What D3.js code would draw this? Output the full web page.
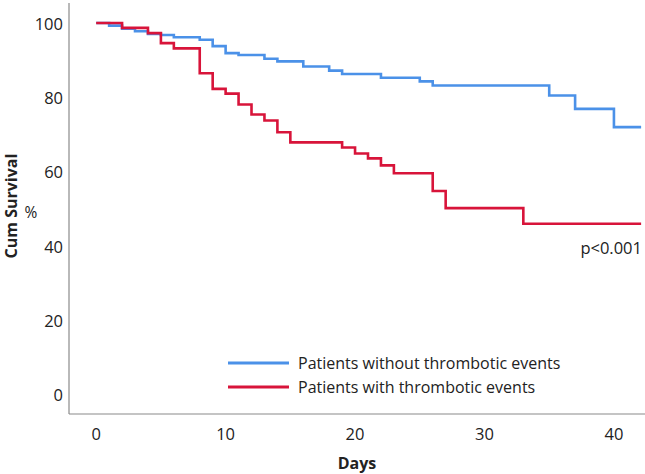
<!DOCTYPE html>
<html><head><meta charset="utf-8">
<script src="https://cdn.jsdelivr.net/npm/d3@7/dist/d3.min.js"></script>
<style>
body{margin:0;background:#fff;}
text{font-family:"Open Sans",sans-serif;fill:#222;}
</style></head>
<body><svg id="c" width="645" height="474"></svg>
<script>
// Kaplan-Meier step data (day, cumulative survival %)
const blueDays = [0,1,2,3,4,5,6,8,9,10,11,13,14,16,18,19,22,25,26,35,37,40];
const blueSurv = [100,99.3,98.5,97.8,97.1,96.8,96.2,95.5,93.8,91.9,91.4,90.4,89.7,88.3,87.2,86.3,85.3,84.3,83.2,80.5,76.9,72.0];
const redDays = [0,2,4,5,6,8,9,10,11,12,13,14,15,19,20,21,22,23,26,27,33];
const redSurv = [100,98.7,97.3,94.6,93.2,86.5,82.3,81.0,78.1,75.4,73.8,70.6,67.9,66.5,64.9,63.6,61.7,59.6,54.8,50.2,46.0];
const lastDay = 42.1;
const xTicks = [0,10,20,30,40];
const yTicks = [0,20,40,60,80,100];
const seriesNames = ["Patients without thrombotic events","Patients with thrombotic events"];
const colors = ["#4b91e8","#d8143a"];

const svg = d3.select("#c");
const x = d3.scaleLinear().domain([-2.1, 42.4]).range([69, 645]);
const y = d3.scaleLinear().domain([-5.2, 105.4]).range([414, 3]);

// axes lines
svg.append("line").attr("x1",69).attr("x2",69).attr("y1",y(105.4)).attr("y2",y(-5.2)).attr("stroke","#8a8a8a").attr("stroke-width",1.2);
svg.append("line").attr("x1",69).attr("x2",645).attr("y1",y(-5.2)).attr("y2",y(-5.2)).attr("stroke","#8a8a8a").attr("stroke-width",1.2);

svg.selectAll(".yt").data(yTicks).enter().append("text")
  .attr("x",63).attr("y",d=>y(d)+1).attr("dy","0.35em").attr("text-anchor","end")
  .attr("font-size",16.5).text(d=>d);
svg.selectAll(".xt").data(xTicks).enter().append("text")
  .attr("x",d=>x(d)).attr("y",434).attr("dy","0.35em").attr("text-anchor","middle")
  .attr("font-size",16.5).text(d=>d);

svg.append("text").attr("x",357).attr("y",463).attr("dy","0.35em").attr("text-anchor","middle")
  .attr("font-size",16).attr("font-weight","bold").text("Days");
svg.append("text").attr("transform","translate(11,206) rotate(-90)").attr("dy","0.35em").attr("text-anchor","middle")
  .attr("font-size",16).attr("font-weight","bold").text("Cum Survival");
svg.append("text").attr("x",31).attr("y",213).attr("dy","0.35em").attr("text-anchor","middle")
  .attr("font-size",15.5).text("%");

function steps(days, surv){
  const pts = days.map((d,i)=>[d,surv[i]]);
  pts.push([lastDay, surv[surv.length-1]]);
  return pts;
}
const line = d3.line().x(d=>x(d[0])).y(d=>y(d[1])).curve(d3.curveStepAfter);
svg.append("path").datum(steps(blueDays,blueSurv)).attr("d",line)
  .attr("fill","none").attr("stroke",colors[0]).attr("stroke-width",2.6);
svg.append("path").datum(steps(redDays,redSurv)).attr("d",line)
  .attr("fill","none").attr("stroke",colors[1]).attr("stroke-width",2.6);

svg.append("text").attr("x",642).attr("y",248).attr("dy","0.35em").attr("text-anchor","end")
  .attr("font-size",16.5).text("p<0.001");

// legend
const lg = svg.selectAll(".lg").data(seriesNames).enter().append("g")
  .attr("transform",(d,i)=>`translate(228,${363+i*24})`);
lg.append("line").attr("x1",0).attr("x2",61).attr("y1",0).attr("y2",0)
  .attr("stroke",(d,i)=>colors[i]).attr("stroke-width",3);
lg.append("text").attr("x",70).attr("y",0).attr("dy","0.35em").attr("font-size",16).text(d=>d);
</script></body></html>
